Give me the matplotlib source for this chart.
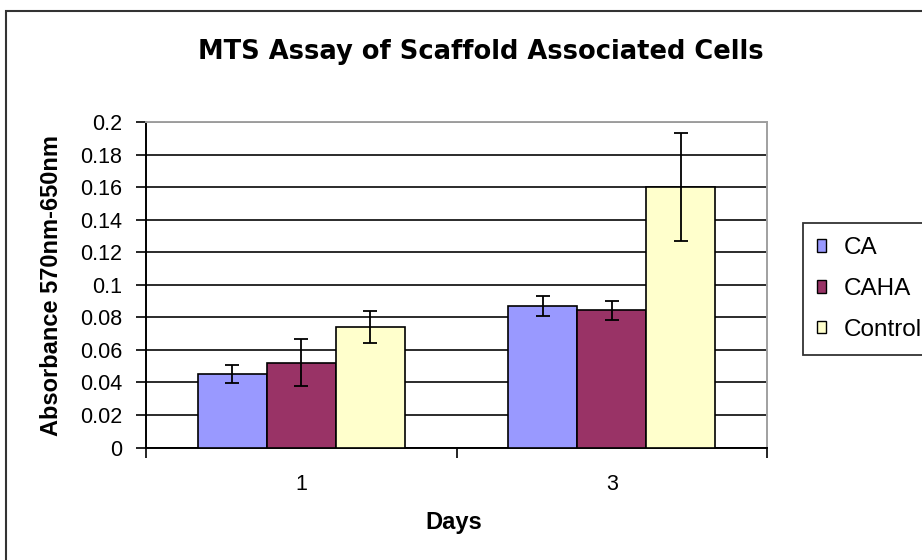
import matplotlib
matplotlib.use("Agg")
import matplotlib.pyplot as plt
import numpy as np
from matplotlib.patches import Rectangle

days = ["1", "3"]
series = ["CA", "CAHA", "Control"]
ca = [0.045, 0.0868]
caha = [0.0522, 0.0843]
control = [0.0743, 0.160]
ca_err = [0.0056, 0.0062]
caha_err = [0.0146, 0.0060]
control_err = [0.0098, 0.0330]
colors = ["#9999FF", "#993366", "#FFFFCC"]
yticks = [0, 0.02, 0.04, 0.06, 0.08, 0.1, 0.12, 0.14, 0.16, 0.18, 0.2]
ytick_labels = ["0", "0.02", "0.04", "0.06", "0.08", "0.1", "0.12", "0.14", "0.16", "0.18", "0.2"]

plt.rcParams['font.family'] = ['Liberation Sans', 'DejaVu Sans']

W, H = 922, 560
fig = plt.figure(figsize=(W / 100, H / 100), dpi=100)
fig.patch.set_facecolor("white")

# outer chart border (extends beyond right/bottom edges)
fig.patches.append(Rectangle((5.5 / W, -0.1), 1.2, 1 - 10.5 / H + 0.1, transform=fig.transFigure,
                             fill=False, edgecolor="#333333", linewidth=1.5))

left, right, top, bottom = 146, 767, 122, 447.5
ax = fig.add_axes([left / W, 1 - bottom / H, (right - left) / W, (bottom - top) / H])

x = np.arange(len(days))
bw = 0.2222
vals = [ca, caha, control]
errs = [ca_err, caha_err, control_err]
for i, (v, e, c, name) in enumerate(zip(vals, errs, colors, series)):
    ax.bar(x + (i - 1) * bw, v, width=bw, color=c, edgecolor="black", linewidth=1.2,
           label=name, zorder=3)
    ax.errorbar(x + (i - 1) * bw, v, yerr=e, fmt="none", ecolor="black", elinewidth=1.3,
                capsize=4.7, capthick=1.3, zorder=4)

ax.set_xlim(-0.5, 1.5)
ax.set_ylim(0, 0.2)
ax.set_yticks(yticks)
ax.set_yticklabels(ytick_labels, fontsize=15.5)
ax.yaxis.grid(True, color="#1a1a1a", linewidth=1.3, zorder=0)
ax.set_axisbelow(True)

ax.set_xticks([-0.5, 0.5, 1.5])
ax.set_xticklabels([])
ax.set_xticks(x, minor=True)
ax.set_xticklabels(days, minor=True, fontsize=15.5)
ax.tick_params(axis="x", which="minor", length=0, pad=19)
ax.tick_params(axis="x", which="major", direction="out", length=7, width=1.2)
ax.tick_params(axis="y", direction="out", length=7, width=1.2, pad=10)

for s in ["left", "bottom"]:
    ax.spines[s].set_color("black")
    ax.spines[s].set_linewidth(1.4)
for s in ["top", "right"]:
    ax.spines[s].set_color("#a0a0a0")
    ax.spines[s].set_linewidth(1.4)

fig.text(481 / W, 1 - 52 / H, "MTS Assay of Scaffold Associated Cells", ha="center", va="center",
         fontsize=18.5, fontweight="bold", family=["DejaVu Sans"])
fig.text(52 / W, 1 - 285 / H, "Absorbance 570nm-650nm", ha="center", va="center",
         rotation=90, fontsize=17, fontweight="bold")
fig.text(454 / W, 1 - 522 / H, "Days", ha="center", va="center", fontsize=17, fontweight="bold")

leg = fig.legend(loc="upper left", bbox_to_anchor=(802.5 / W, 1 - 223 / H), frameon=True,
                 fancybox=False, edgecolor="black", fontsize=17.5, handlelength=0.4,
                 handleheight=0.4, handletextpad=0.7, labelspacing=0.78, borderpad=0.58,
                 borderaxespad=0)
leg.get_frame().set_linewidth(1.3)
for p in leg.get_patches():
    p.set_linewidth(1.0)

fig.savefig("out.png", dpi=100, facecolor="white")
